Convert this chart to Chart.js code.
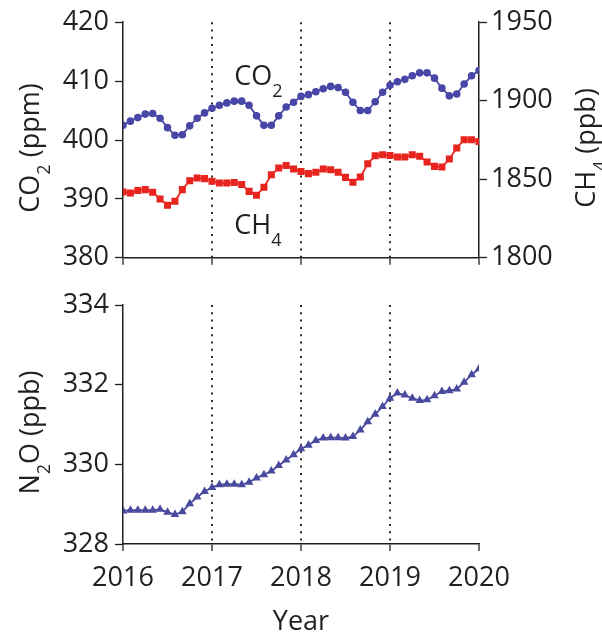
<!DOCTYPE html>
<html><head><meta charset="utf-8">
<script src="https://cdn.jsdelivr.net/npm/chart.js@4.4.0/dist/chart.umd.min.js"></script>
<style>
html,body{margin:0;padding:0;background:#fff;}
#wrap{position:relative;width:602px;height:634px;overflow:hidden;}
canvas{position:absolute;left:0;}
</style>
</head><body>
<div id="wrap">
<canvas id="c1" width="602" height="280" style="top:0;width:602px;height:280px"></canvas>
<canvas id="c2" width="602" height="354" style="top:280px;width:602px;height:354px"></canvas>
</div>
<script>
// ---- data ----
const years = [2016, 2017, 2018, 2019, 2020];
const startYear = 2016; // monthly samples from Jan 2016
const co2Values = [402.5, 403.2, 403.8, 404.4, 404.5, 403.7, 402.1, 400.8, 400.9, 402.4, 403.7, 404.6,
                   405.4, 405.9, 406.3, 406.6, 406.6, 405.9, 404.1, 402.5, 402.5, 404.1, 405.6, 406.4,
                   407.4, 407.7, 408.2, 408.7, 409.1, 408.9, 408.1, 406.4, 405.0, 405.0, 406.5, 408.1,
                   409.3, 409.9, 410.3, 410.9, 411.4, 411.4, 410.5, 408.8, 407.5, 407.8, 409.5, 410.9,
                   411.8];
const ch4Values = [1841.9, 1841.3, 1842.8, 1843.4, 1841.7, 1837.5, 1833.4, 1836.0, 1843.4, 1849.1, 1850.8, 1850.4,
                   1848.7, 1847.6, 1847.6, 1848.0, 1846.6, 1842.3, 1839.8, 1844.9, 1852.9, 1857.2, 1858.7, 1856.5,
                   1855.0, 1853.6, 1854.4, 1856.5, 1856.1, 1854.4, 1851.2, 1848.1, 1851.4, 1859.9, 1865.0, 1865.6,
                   1865.2, 1864.2, 1864.2, 1865.6, 1864.6, 1861.0, 1858.2, 1857.8, 1862.9, 1869.9, 1875.2, 1875.2,
                   1874.1];
const n2oValues = [328.83, 328.85, 328.85, 328.85, 328.85, 328.87, 328.80, 328.74, 328.81, 329.01, 329.18, 329.32,
                   329.42, 329.49, 329.50, 329.50, 329.49, 329.55, 329.66, 329.74, 329.83, 329.97, 330.11, 330.24,
                   330.39, 330.48, 330.60, 330.66, 330.67, 330.67, 330.66, 330.70, 330.86, 331.07, 331.26, 331.45,
                   331.66, 331.79, 331.74, 331.66, 331.60, 331.62, 331.72, 331.83, 331.85, 331.89, 332.06, 332.25,
                   332.40];
const co2Ticks = [380, 390, 400, 410, 420];
const ch4Ticks = [1800, 1850, 1900, 1950];
const n2oTicks = [328, 330, 332, 334];

// ---- styling ----
const FONT = "'Open Sans', 'Noto Sans', sans-serif";
const FS = 27;
const INK = '#231f20';
Chart.defaults.font.family = FONT;
Chart.defaults.font.size = FS;
Chart.defaults.color = INK;

const toXY = vals => vals.map((v, i) => ({x: startYear + i / 12, y: v}));
const plain = v => String(v);

function textParts(ctx, parts, x, y, rot, fs, align) {
  ctx.save();
  ctx.translate(x, y);
  ctx.rotate(rot);
  const main = fs + 'px ' + FONT, sub = Math.round(fs * 0.66) + 'px ' + FONT;
  let w = 0;
  parts.forEach(p => { ctx.font = p.sub ? sub : main; p.w = ctx.measureText(p.t).width; w += p.w; });
  let cx = align === 'left' ? 0 : -w / 2;
  ctx.fillStyle = INK;
  ctx.textBaseline = 'alphabetic';
  ctx.textAlign = 'left';
  parts.forEach(p => { ctx.font = p.sub ? sub : main; ctx.fillText(p.t, cx, p.sub ? fs * 0.42 : 0); cx += p.w; });
  ctx.restore();
}

const labelPlugin = {
  id: 'subLabels',
  afterDraw(chart) {
    const ctx = chart.ctx, a = chart.chartArea, cy = (a.top + a.bottom) / 2 + 8;
    const which = chart.options.plugins.subLabels.which;
    if (which === 'top') {
      textParts(ctx, [{t:'CO'},{t:'2',sub:true},{t:' (ppm)'}], 29 + FS*0.36, cy, -Math.PI/2, FS, 'center');
      textParts(ctx, [{t:'CH'},{t:'4',sub:true},{t:' (ppb)'}], 585 + FS*0.36, cy, -Math.PI/2, FS, 'center');
      const xs = chart.scales.x, ys = chart.scales.y, y2 = chart.scales.y2;
      textParts(ctx, [{t:'CO'},{t:'2',sub:true}], xs.getPixelForValue(2017.25), ys.getPixelForValue(409.3), 0, FS, 'left');
      textParts(ctx, [{t:'CH'},{t:'4',sub:true}], xs.getPixelForValue(2017.25), y2.getPixelForValue(1815), 0, FS, 'left');
    } else {
      textParts(ctx, [{t:'N'},{t:'2',sub:true},{t:'O (ppb)'}], 29 + FS*0.36, cy, -Math.PI/2, FS, 'center');
    }
  }
};

const xGrid = {
  color: c => (c.tick && c.tick.value > years[0] && c.tick.value < years[years.length-1]) ? '#2a2a2a' : 'rgba(0,0,0,0)',
  lineWidth: 2,
  tickColor: INK, tickLength: 7, tickWidth: 1.3
};
const xBorder = {color: INK, width: 1.5, dash: [2, 5.3]};
const yGrid = {drawOnChartArea: false, color: INK, tickLength: 8, tickWidth: 1.3};
const yBorder = {color: INK, width: 1.5};
const setTicks = arr => (s => { s.ticks = arr.map(v => ({value: v})); });

new Chart(document.getElementById('c1'), {
  type: 'line',
  data: {
    datasets: [
      {label: 'CO2', data: toXY(co2Values), yAxisID: 'y', borderColor: '#4846a6', backgroundColor: '#4846a6',
       borderWidth: 1.8, pointStyle: 'circle', pointRadius: 2.9, tension: 0},
      {label: 'CH4', data: toXY(ch4Values), yAxisID: 'y2', borderColor: '#e8241f', backgroundColor: '#e8241f',
       borderWidth: 1.8, pointStyle: 'rect', pointRadius: 3.7, tension: 0}
    ]
  },
  options: {
    responsive: false, animation: false, devicePixelRatio: 1,
    layout: {padding: {top: 22, left: 0, right: 0, bottom: 0}},
    plugins: {legend: {display: false}, tooltip: {enabled: false}, subLabels: {which: 'top'}},
    scales: {
      x: {type: 'linear', min: years[0], max: years[years.length-1], afterBuildTicks: setTicks(years),
          ticks: {display: false}, grid: xGrid, border: xBorder,
          afterFit: s => { s.height = 22; }},
      y: {position: 'left', min: co2Ticks[0], max: co2Ticks[co2Ticks.length-1], afterBuildTicks: setTicks(co2Ticks),
          ticks: {padding: 6, callback: plain}, grid: yGrid, border: yBorder, afterFit: s => { s.width = 123; }},
      y2: {position: 'right', min: ch4Ticks[0], max: ch4Ticks[ch4Ticks.length-1], afterBuildTicks: setTicks(ch4Ticks),
          ticks: {padding: 4, callback: plain}, grid: yGrid, border: yBorder, afterFit: s => { s.width = 123; }}
    }
  },
  plugins: [labelPlugin]
});

new Chart(document.getElementById('c2'), {
  type: 'line',
  data: {
    datasets: [
      {label: 'N2O', data: toXY(n2oValues), yAxisID: 'y', borderColor: '#4a4a9e', backgroundColor: '#4a4a9e',
       borderWidth: 1.8, pointStyle: 'triangle', pointRadius: 3.2, tension: 0}
    ]
  },
  options: {
    responsive: false, animation: false, devicePixelRatio: 1,
    layout: {padding: {top: 25, left: 0, right: 123, bottom: 0}},
    plugins: {legend: {display: false}, tooltip: {enabled: false}, subLabels: {which: 'bottom'}},
    scales: {
      x: {type: 'linear', min: years[0], max: years[years.length-1], afterBuildTicks: setTicks(years),
          ticks: {padding: 11, maxRotation: 0, callback: plain}, grid: xGrid, border: xBorder,
          title: {display: true, text: 'Year', padding: {top: 0, bottom: -5}},
          afterFit: s => { s.height = 90; }},
      y: {position: 'left', min: n2oTicks[0], max: n2oTicks[n2oTicks.length-1], afterBuildTicks: setTicks(n2oTicks),
          ticks: {padding: 6, callback: plain}, grid: yGrid, border: yBorder, afterFit: s => { s.width = 123; }}
    }
  },
  plugins: [labelPlugin]
});
</script>
</body></html>
